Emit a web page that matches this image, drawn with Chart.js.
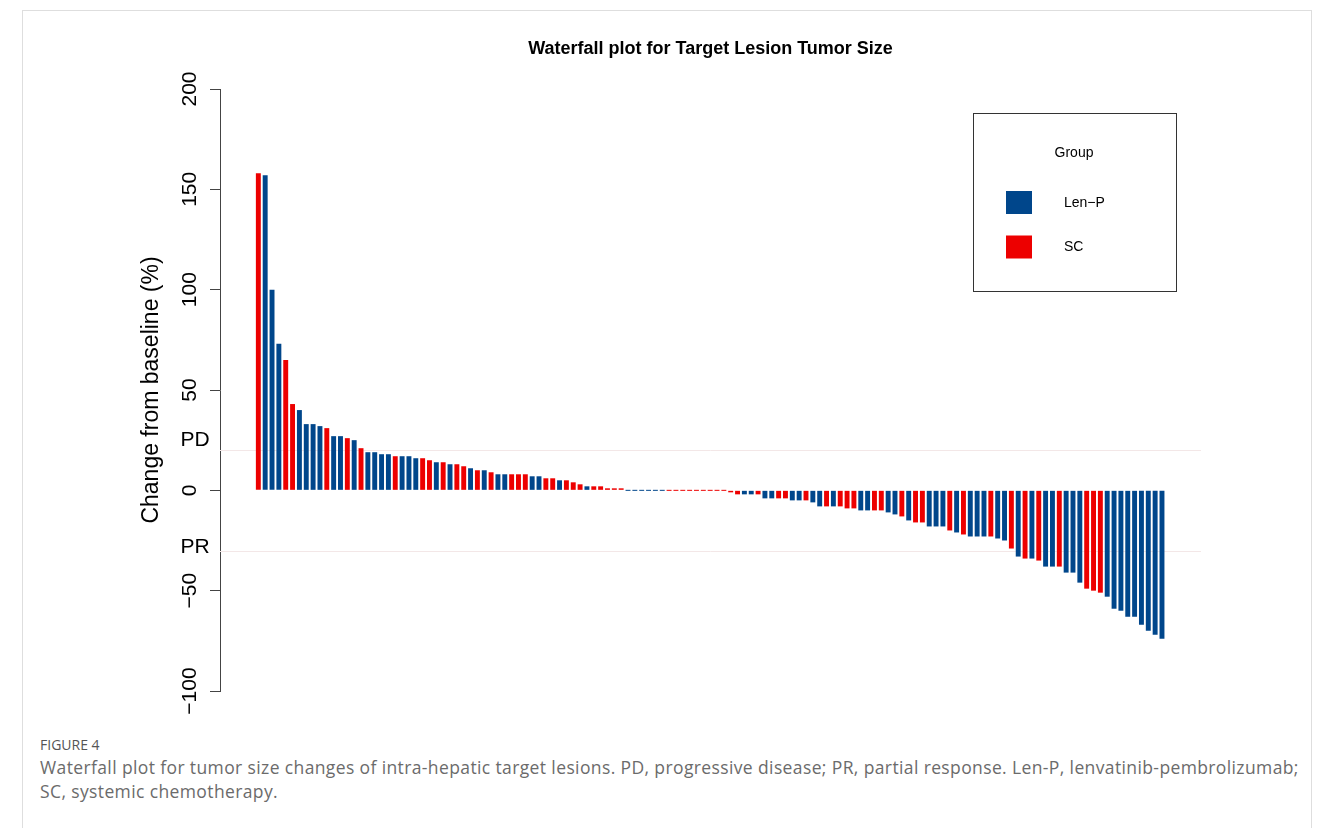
<!DOCTYPE html>
<html>
<head>
<meta charset="utf-8">
<script src="https://cdn.jsdelivr.net/npm/chart.js@4.4.1/dist/chart.umd.min.js"></script>
<style>
  body { margin: 0; background: #fff; width: 1322px; height: 828px; overflow: hidden; position: relative; }
  #frame { position: absolute; left: 22px; top: 10px; width: 1288px; height: 860px; border: 1px solid #dedede; }
  #chart { position: absolute; left: 0; top: 0; }
  #figlabel { position: absolute; left: 40px; top: 735px; font-family: "Open Sans", sans-serif; font-size: 14px; color: #555; }
  #caption { position: absolute; left: 40px; top: 755px; font-family: "Open Sans", sans-serif; font-size: 17.5px; letter-spacing: 0.38px; line-height: 24px; color: #6b6b6b; white-space: nowrap; }
</style>
</head>
<body>
<div id="frame"></div>
<canvas id="chart" width="1322" height="720"></canvas>
<div id="figlabel">FIGURE 4</div>
<div id="caption">Waterfall plot for tumor size changes of intra-hepatic target lesions. PD, progressive disease; PR, partial response. Len-P, lenvatinib-pembrolizumab;<br>SC, systemic chemotherapy.</div>
<script>
// group of each patient, sorted by change (L = Len-P, S = SC)
var groupCodes = [
  'S','L','L','L','S','S','L','L','L','L',
  'S','L','L','S','L','S','L','L','L','L',
  'S','L','L','L','S','S','L','S','L','S',
  'S','L','S','L','S','L','L','S','S','S',
  'L','L','S','S','L','S','S','S','L','S',
  'S','S','S','S','L','L','L','L','L','L',
  'S','S','S','S','S','S','S','S','S','S',
  'S','L','L','S','L','L','S','S','L','L',
  'S','L','L','S','L','S','S','S','L','L',
  'S','S','L','L','S','L','S','S','L','L',
  'L','S','L','S','L','L','L','S','L','L',
  'S','L','S','L','S','L','L','S','L','L',
  'L','S','S','S','L','L','L','L','L','L',
  'L','L','L'
];
// change from baseline (%)
var changes = [
  158, 157, 100, 73, 65, 43, 40, 33, 33, 32,
  31, 27, 27, 26, 25, 21, 19, 19, 18, 18,
  17, 17, 17, 16, 16, 15, 14, 14, 13, 13,
  12, 11, 10, 10, 9, 8, 8, 8, 8, 8,
  7, 7, 6, 6, 5, 5, 4, 3, 2, 2,
  2, 1, 1, 1, 0, 0, 0, 0, 0, 0,
  0, 0, 0, 0, 0, 0, 0, 0, 0, -1,
  -2, -2, -2, -2, -4, -4, -4, -4, -5, -5,
  -5, -6, -8, -8, -8, -8, -9, -9, -10, -10,
  -10, -10, -11, -12, -13, -15, -16, -16, -18, -18,
  -18, -20, -21, -22, -23, -23, -23, -23, -24, -25,
  -29, -33, -34, -34, -35, -38, -38, -38, -41, -41,
  -46, -49, -50, -51, -53, -59, -60, -63, -63, -67,
  -70, -72, -74
];
var groupNames = { L: 'Len\u2212P', S: 'SC' };
var groupColors = { L: '#00468B', S: '#ED0000' };
var legendOrder = ['L', 'S'];
var thresholds = [
  { label: 'PD', value: 20 },
  { label: 'PR', value: -30 }
];
var yTicks = { min: -100, max: 200, step: 50 };

var patients = changes.map(function (v, i) { return i + 1; });

var extras = {
  id: 'waterfallExtras',
  beforeDatasetsDraw: function (chart) {
    var ctx = chart.ctx, a = chart.chartArea, y = chart.scales.y;
    ctx.save();
    ctx.strokeStyle = '#f3e7e7';
    ctx.lineWidth = 1;
    ctx.fillStyle = '#000';
    ctx.font = '21px "Liberation Sans", Arial, sans-serif';
    ctx.textAlign = 'center';
    ctx.textBaseline = 'middle';
    thresholds.forEach(function (t) {
      var py = Math.round(y.getPixelForValue(t.value)) + 0.5;
      ctx.beginPath();
      ctx.moveTo(a.left, py);
      ctx.lineTo(a.right, py);
      ctx.stroke();
      var off = t.value > 0 ? -10 : -4;
      ctx.fillText(t.label, a.left - 25, py + off);
    });
    ctx.restore();
  },
  afterDraw: function (chart) {
    var ctx = chart.ctx, a = chart.chartArea;
    ctx.save();
    // title
    ctx.fillStyle = '#000';
    ctx.font = 'bold 18px "Liberation Sans", Arial, sans-serif';
    ctx.textAlign = 'center';
    ctx.textBaseline = 'middle';
    ctx.fillText('Waterfall plot for Target Lesion Tumor Size', (a.left + a.right) / 2, 49);
    // legend
    var bx = a.right - 228, by = a.top + 24, bw = 203, bh = 178;
    ctx.strokeStyle = '#333';
    ctx.lineWidth = 1;
    ctx.strokeRect(bx + 0.5, by + 0.5, bw, bh);
    ctx.font = '14px "Liberation Sans", Arial, sans-serif';
    ctx.fillText('Group', bx + 101, by + 40);
    ctx.textAlign = 'left';
    legendOrder.forEach(function (g, i) {
      var sy = by + 78 + i * 44.5;
      ctx.fillStyle = groupColors[g];
      ctx.fillRect(bx + 33, sy, 26, 23);
      ctx.fillStyle = '#000';
      ctx.fillText(groupNames[g], bx + 91, sy + 12);
    });
    ctx.restore();
  }
};

var ctxW = document.getElementById('chart').getContext('2d');
var waterfall = new Chart(ctxW, {
  type: 'bar',
  data: {
    labels: patients,
    datasets: [{
      label: 'Change from baseline (%)',
      data: changes,
      backgroundColor: groupCodes.map(function (g) { return groupColors[g]; }),
      barPercentage: 0.72,
      categoryPercentage: 1,
      minBarLength: 1
    }]
  },
  options: {
    responsive: false,
    animation: false,
    layout: { padding: { left: 138, right: 121, top: 89, bottom: 29 } },
    plugins: { legend: { display: false }, tooltip: { enabled: false } },
    scales: {
      x: { type: 'linear', display: false, offset: false, bounds: 'data', min: -4.6, max: 138.7 },
      y: {
        min: yTicks.min,
        max: yTicks.max,
        afterFit: function (s) { s.width = 82; },
        border: { display: true, color: '#444', width: 1 },
        grid: { drawOnChartArea: false, drawTicks: true, tickLength: 10, color: '#444' },
        ticks: {
          stepSize: yTicks.step,
          minRotation: 90,
          maxRotation: 90,
          crossAlign: 'center',
          padding: -4,
          color: '#000',
          font: { family: '"Liberation Sans", Arial, sans-serif', size: 21 },
          callback: function (v) { return String(v).replace('-', '\u2212'); }
        },
        title: {
          display: true,
          text: 'Change from baseline (%)',
          color: '#000',
          padding: 0,
          font: { family: '"Liberation Sans", Arial, sans-serif', size: 23 }
        }
      }
    }
  },
  plugins: [extras]
});
</script>
</body>
</html>
